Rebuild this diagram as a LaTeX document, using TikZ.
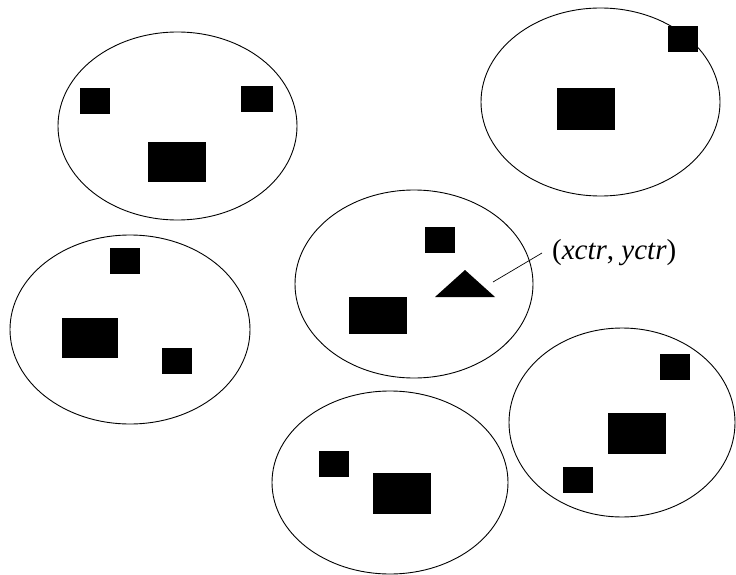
\documentclass[tikz,border=0pt]{standalone}
\usepackage{fontspec}
\setmainfont{Liberation Serif}
\usetikzlibrary{shapes.geometric}
\tikzset{
  cell/.style={ellipse, draw=black, line width=0.9pt, inner sep=0pt},
  blk/.style={fill=black, draw=none, inner sep=0pt, outer sep=0pt, rectangle},
  sm/.style={blk, minimum width=30pt, minimum height=26pt},
  bg/.style={blk, minimum width=58pt, minimum height=40pt},
  lead/.style={draw=black, line width=0.7pt}
}
\begin{document}
\begin{tikzpicture}[x=1pt,y=-1pt]
\useasboundingbox (0,0) rectangle (736,575);
% ellipses
\node[cell, minimum width=239pt, minimum height=188pt] (e1) at (177.5,126) {};
\node[cell, minimum width=239pt, minimum height=188pt] (e2) at (600.5,102) {};
\node[cell, minimum width=240pt, minimum height=189pt] (e3) at (130,329.5) {};
\node[cell, minimum width=238pt, minimum height=188pt] (e4) at (414,284) {};
\node[cell, minimum width=236pt, minimum height=183pt] (e5) at (390,482.5) {};
\node[cell, minimum width=226pt, minimum height=189pt] (e6) at (622,422.5) {};
% ellipse 1
\node[sm] (a1) at (95,101) {};
\node[sm, minimum width=32pt] (a2) at (257,99) {};
\node[bg] (a3) at (177,162) {};
% ellipse 2
\node[sm] (b1) at (683,39) {};
\node[bg, minimum height=42pt] (b2) at (586,109) {};
% ellipse 3
\node[sm] (c1) at (124.5,261) {};
\node[bg, minimum width=56pt] (c2) at (90,338) {};
\node[sm] (c3) at (176.5,361) {};
% ellipse 4
\node[sm] (d1) at (439.5,240) {};
\node[bg, minimum height=37pt] (d2) at (378,315.5) {};
\fill[black] (435,297) -- (495,297) -- (465,270) -- cycle;
\coordinate (tri) at (493,282);
% ellipse 5
\node[sm] (f1) at (334,464) {};
\node[bg, minimum height=41pt] (f2) at (402,493.5) {};
% ellipse 6
\node[sm] (g1) at (675,367) {};
\node[bg, minimum height=41pt] (g2) at (637,433.5) {};
\node[sm] (g3) at (577.5,480) {};
% label
\node[anchor=west, inner sep=0pt, font=\fontsize{29}{31}\selectfont] (lbl) at (552,252.5) {(\textit{xctr}, \textit{yctr})};
\coordinate (lend) at (542,253);
\draw[lead] (tri) -- (lend);
\end{tikzpicture}
\end{document}
